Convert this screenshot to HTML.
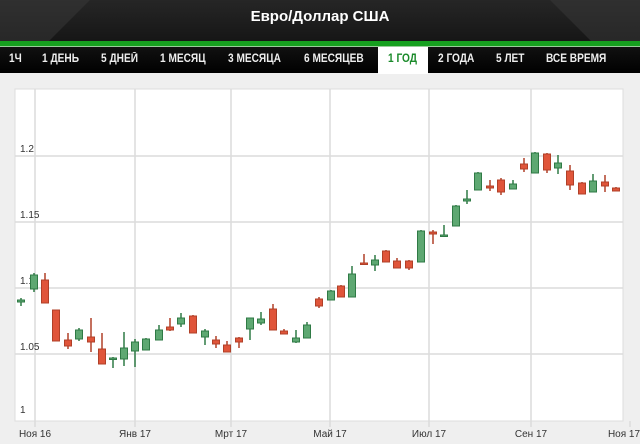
<!DOCTYPE html>
<html><head><meta charset="utf-8"><style>
body{margin:0;width:640px;height:444px;overflow:hidden;background:#efefef;font-family:"Liberation Sans",sans-serif;position:relative}
#title{position:absolute;left:0;top:0;width:640px;height:41px;background:linear-gradient(#262626,#161616);color:#fff;font-weight:bold;font-size:15px;text-align:center;line-height:34px;overflow:hidden}
#title:before{content:"";position:absolute;left:-40px;top:-30px;width:120px;height:80px;background:#3a3a3a;transform:skewX(-45deg);opacity:.5}
#title:after{content:"";position:absolute;right:-40px;top:-30px;width:120px;height:80px;background:#3a3a3a;transform:skewX(45deg);opacity:.5}
#title span{position:relative;z-index:1}
#gl{position:absolute;left:0;top:41px;width:640px;height:5px;background:#16a01f;border-bottom:1px solid #9c9}
#tabs{position:absolute;left:0;top:47px;width:640px;height:26px;background:linear-gradient(#111,#000)}
.t{position:absolute;top:0;height:26px;line-height:25px;color:#eee;font-size:11.5px;font-weight:bold;transform:scaleX(.88);transform-origin:left}
</style></head><body>
<div id="title"><span>Евро/Доллар США</span></div>
<div id="gl"></div>
<div id="tabs">
<span class="t" style="left:9px">1Ч</span>
<span class="t" style="left:42px">1 ДЕНЬ</span>
<span class="t" style="left:101px">5 ДНЕЙ</span>
<span class="t" style="left:160px">1 МЕСЯЦ</span>
<span class="t" style="left:228px">3 МЕСЯЦА</span>
<span class="t" style="left:304px">6 МЕСЯЦЕВ</span>
<div style="position:absolute;left:378px;top:0;width:50px;height:27px;background:#fff"></div>
<span class="t" style="left:388px;color:#1a8a2a">1 ГОД</span>
<span class="t" style="left:438px">2 ГОДА</span>
<span class="t" style="left:496px">5 ЛЕТ</span>
<span class="t" style="left:546px">ВСЕ ВРЕМЯ</span>
</div>
<svg width="640" height="444" style="position:absolute;left:0;top:0" font-family="Liberation Sans,sans-serif">
<rect x="15" y="89" width="608" height="332" fill="#fff" stroke="#ddd"/>
<g stroke="#dcdcdc" stroke-width="1.5">
<line x1="15" x2="623" y1="156" y2="156"/><line x1="15" x2="623" y1="222" y2="222"/><line x1="15" x2="623" y1="288" y2="288"/><line x1="15" x2="623" y1="354" y2="354"/>
<line x1="35" x2="35" y1="89" y2="427"/><line x1="135" x2="135" y1="89" y2="427"/><line x1="231" x2="231" y1="89" y2="427"/><line x1="330" x2="330" y1="89" y2="427"/><line x1="429" x2="429" y1="89" y2="427"/><line x1="531" x2="531" y1="89" y2="427"/><line x1="630" x2="630" y1="421" y2="427"/>
</g>
<g font-size="10" fill="#333">
<text x="20" y="152">1.2</text><text x="20" y="218">1.15</text><text x="20" y="284">1.1</text><text x="20" y="350">1.05</text><text x="20" y="413">1</text>
</g>
<g font-size="10" fill="#333" text-anchor="middle">
<text x="35" y="437">Ноя 16</text><text x="135" y="437">Янв 17</text><text x="231" y="437">Мрт 17</text><text x="330" y="437">Май 17</text><text x="429" y="437">Июл 17</text><text x="531" y="437">Сен 17</text><text x="624" y="437">Ноя 17</text>
</g>
<g id="c"></g>
</svg>
<script>
var d=[[21,'g',300,302,298,306],[34,'g',275,289,273,292],[45,'r',280,303,273,303],[56,'r',310,341,310,341],[68,'r',340,346,333,349],[79,'g',330,339,328,341],[91,'r',337,342,318,352],[102,'r',349,364,333,364],[113,'g',358,359,357,368],[124,'g',348,359,332,366],[135,'g',342,351,339,367],[146,'g',339,350,338,350],[159,'g',330,340,325,340],[170,'r',327,330,318,331],[181,'g',318,324,313,327],[193,'r',316,333,315,333],[205,'g',331,337,329,345],[216,'r',340,344,336,348],[227,'r',345,352,341,352],[239,'r',338,342,337,348],[250,'g',318,329,318,340],[261,'g',319,323,312,325],[273,'r',309,330,304,330],[284,'r',331,334,329,334],[296,'g',338,342,330,343],[307,'g',325,338,322,338],[319,'r',299,306,297,308],[331,'g',291,300,290,300],[341,'r',286,297,285,297],[352,'g',274,297,266,297],[364,'r',263,264,254,264],[375,'g',260,265,255,271],[386,'r',251,262,250,262],[397,'r',261,268,258,268],[409,'r',261,268,260,270],[421,'g',231,262,230,262],[433,'r',232,234,230,244],[444,'g',235,236,225,236],[456,'g',206,226,205,226],[467,'g',199,201,190,204],[478,'g',173,190,172,190],[490,'r',186,188,180,191],[501,'r',180,192,178,195],[513,'g',184,189,180,189],[524,'r',164,169,158,172],[535,'g',153,173,152,173],[547,'r',154,170,153,173],[558,'g',163,168,155,174],[570,'r',171,185,165,190],[582,'r',183,194,182,194],[593,'g',181,192,174,192],[605,'r',182,186,175,192],[616,'r',188,191,187,191]];
var s='';d.forEach(function(c){var f=c[1]=='g'?'#5ea872':'#e0553a',k=c[1]=='g'?'#2f7a45':'#b04028';
s+='<line x1="'+c[0]+'" x2="'+c[0]+'" y1="'+c[4]+'" y2="'+c[5]+'" stroke="'+k+'" stroke-width="1.5"/>';
s+='<rect x="'+(c[0]-3.5)+'" y="'+c[2]+'" width="7" height="'+Math.max(1.5,c[3]-c[2])+'" fill="'+f+'" stroke="'+k+'"/>';});
document.getElementById('c').innerHTML=s;
</script>
</body></html>
